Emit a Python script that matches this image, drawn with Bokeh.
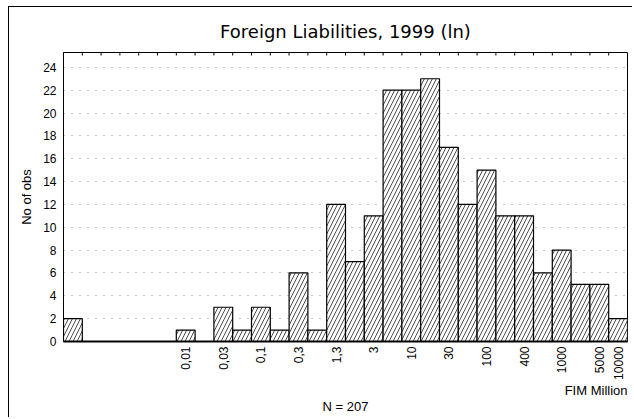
from math import pi
from bokeh.plotting import figure
from bokeh.models import FixedTicker, Range1d, Title, ColumnDataSource
from bokeh.embed import file_html
from bokeh.resources import INLINE

# ---- data ----
counts = [2, 0, 0, 0, 0, 0, 1, 0, 3, 1, 3, 1, 6, 1, 12, 7, 11, 22, 22, 23,
          17, 12, 15, 11, 11, 6, 8, 5, 5, 2]
tick_bins = [6, 8, 10, 12, 14, 16, 18, 20, 22, 24, 26, 28, 29]
tick_labels = ["0,01", "0,03", "0,1", "0,3", "1,3", "3", "10", "30", "100",
               "400", "1000", "5000", "10000"]
y_ticks = list(range(0, 25, 2))
title_text = "Foreign Liabilities, 1999 (ln)"
x_label = "FIM Million"
y_label = "No of obs"
n_text = "N = 207"

FONT = "Liberation Sans"
nb = len(counts)
YMAX = 25.3
centers = [i + 0.5 for i in range(nb)]
src = ColumnDataSource(dict(x=centers, top=counts))
edges = list(range(1, nb))
tsrc = ColumnDataSource(dict(x=edges, y=[YMAX] * len(edges)))

p = figure(width=624, height=411, output_backend="svg", toolbar_location=None,
           x_range=Range1d(0, nb), y_range=Range1d(0, YMAX),
           min_border_left=54, min_border_right=6, min_border_top=44,
           min_border_bottom=77,
           styles={"margin-left": "8px", "margin-top": "6px",
                   "border-left": "1px solid black",
                   "border-top": "1px solid black"})
p.background_fill_color = "white"
p.border_fill_color = "white"
p.outline_line_color = "black"
p.outline_line_width = 1

p.title.text = title_text
p.title.text_font = "DejaVu Sans"
p.title.text_font_size = "18px"
p.title.text_font_style = "normal"
p.title.text_color = "black"
p.title.align = "center"
p.title.standoff = 22

p.vbar(x="x", top="top", width=1, source=src, fill_color="white",
       line_color="black", line_width=1.2, hatch_pattern="/",
       hatch_color="black", hatch_scale=8, hatch_weight=0.7)

# inward tick marks on the top edge at bin boundaries
p.ray(x="x", y="y", length=3, length_units="screen", angle=-pi / 2,
      source=tsrc, line_color="black", line_width=1)

# x axis
xa = p.xaxis[0]
xa.ticker = FixedTicker(ticks=[c + 0.5 for c in tick_bins])
xa.major_label_overrides = {c + 0.5: l for c, l in zip(tick_bins, tick_labels)}
xa.major_label_orientation = pi / 2
xa.major_label_text_font = FONT
xa.major_label_text_font_size = "12px"
xa.major_label_text_color = "black"
xa.major_label_standoff = 5
xa.major_tick_in = 0
xa.major_tick_out = 0
xa.minor_tick_in = 0
xa.minor_tick_out = 0
xa.axis_line_width = 2
xa.axis_line_color = "black"

# y axis
ya = p.yaxis[0]
ya.ticker = FixedTicker(ticks=y_ticks)
ya.major_label_text_font = FONT
ya.major_label_text_font_size = "12px"
ya.major_label_text_color = "black"
ya.major_label_standoff = 7
ya.major_tick_in = 0
ya.major_tick_out = 0
ya.minor_tick_in = 0
ya.minor_tick_out = 0
ya.axis_label = y_label
ya.axis_label_text_font = FONT
ya.axis_label_text_font_size = "13px"
ya.axis_label_text_font_style = "normal"
ya.axis_label_text_color = "black"
ya.axis_label_standoff = 6

# grid
p.xgrid.grid_line_color = None
p.ygrid.ticker = FixedTicker(ticks=y_ticks[1:])
p.ygrid.grid_line_color = "black"
p.ygrid.grid_line_alpha = 0.45
p.ygrid.grid_line_dash = "1 7"

# texts below
t1 = Title(text=x_label, align="right", text_font=FONT, text_font_size="13px",
           text_font_style="normal", text_color="black", standoff=-3)
p.add_layout(t1, "below")
t2 = Title(text=n_text, align="center", text_font=FONT, text_font_size="13px",
           text_font_style="normal", text_color="black", standoff=1)
p.add_layout(t2, "below")

open("out.html", "w").write(file_html(p, INLINE))
